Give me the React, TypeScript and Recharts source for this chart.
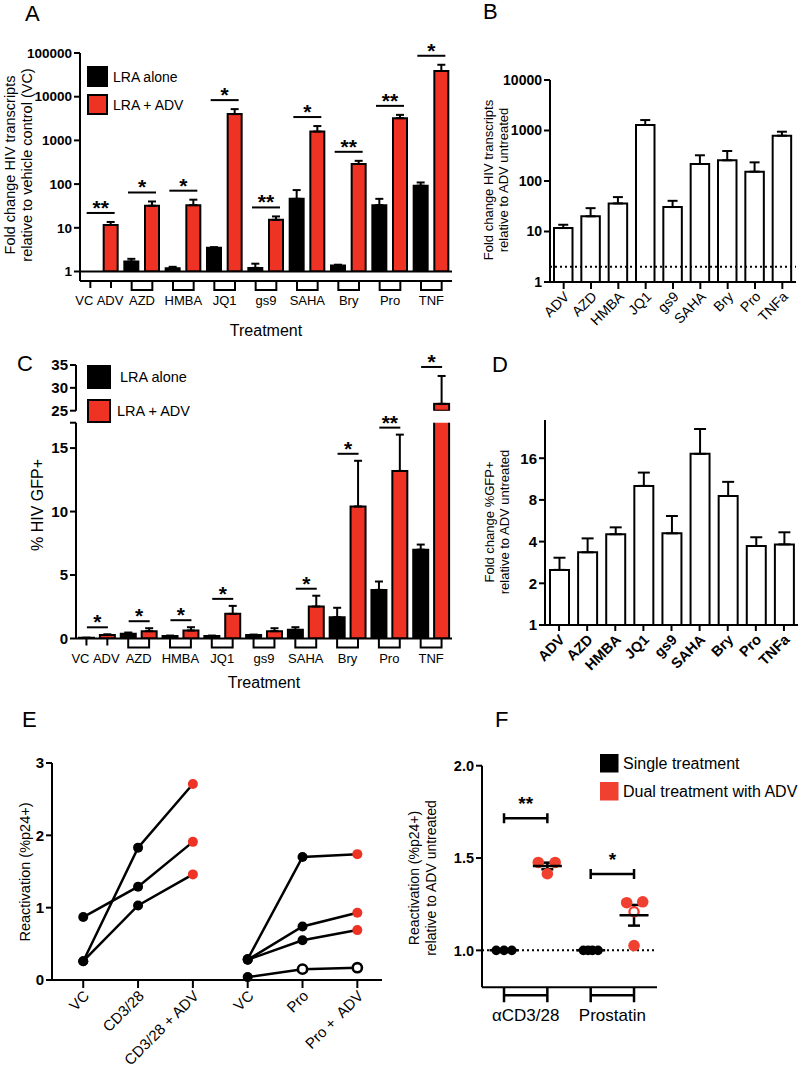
import React from 'react';
import {
  ComposedChart,
  Bar,
  Cell,
  Line,
  Scatter,
  XAxis,
  YAxis,
  ErrorBar,
  ReferenceLine,
} from 'recharts';

const FONT = '"Liberation Sans", Arial, Helvetica, sans-serif';
const RED = '#ee3224';
const PAGE_W = 800;
const PAGE_H = 1073;

// A: HIV transcripts, fold change over vehicle control (log)
const treatments = ['VC', 'ADV', 'AZD', 'HMBA', 'JQ1', 'gs9', 'SAHA', 'Bry', 'Pro', 'TNF'];
// first pair is VC (black) / ADV (red), then LRA alone / LRA + ADV
const aAlone = [1, 1.69, 1.19, 3.5, 1.21, 46, 1.37, 33, 92];
const aAloneErr = [0, 0.26, 0.09, 0.1, 0.3, 27, 0.06, 13, 17];
const aAdv = [11.6, 32, 33, 4000, 15.2, 1590, 288, 3230, 38800];
const aAdvErr = [2, 8, 11, 1200, 3, 540, 53, 610, 15000];
const aSig = ['**', '*', '*', '*', '**', '*', '**', '**', '*'];
const aTicks = [1, 10, 100, 1000, 10000, 100000];

// B: fold change relative to ADV untreated (log)
const bLabels = ['ADV', 'AZD', 'HMBA', 'JQ1', 'gs9', 'SAHA', 'Bry', 'Pro', 'TNFa'];
const bFold = [11.7, 20, 36, 1285, 30.5, 217, 257, 153, 789];
const bErr = [1.9, 9, 12, 325, 10, 106, 136, 81, 157];
const bTicks = [1, 10, 100, 1000, 10000];

// C: % HIV GFP+ (broken axis)
const cAlone = [0.05, 0.37, 0.2, 0.2, 0.27, 0.68, 1.68, 3.83, 7.0];
const cAloneErr = [0.01, 0.1, 0.03, 0.03, 0.04, 0.21, 0.74, 0.66, 0.4];
const cAdv = [0.28, 0.58, 0.63, 1.94, 0.58, 2.52, 10.4, 13.2, 26.5];
const cAdvErr = [0.05, 0.23, 0.26, 0.63, 0.23, 0.85, 3.6, 2.86, 6.1];
const cSig = ['*', '*', '*', '*', '', '*', '*', '**', '*'];
const cLowTicks = [0, 5, 10, 15, 17];
const cHighTicks = [25, 30, 35];

// D: fold change %GFP+ (log2)
const dFold = [2.5, 3.35, 4.52, 10.1, 4.59, 17.2, 8.54, 3.72, 3.82];
const dErr = [0.56, 0.87, 0.55, 2.5, 1.53, 8.8, 2.26, 0.58, 0.85];
const dTicks = [1, 2, 4, 8, 16];

// E: reactivation per donor
const eLabels = ['VC', 'CD3/28', 'CD3/28 + ADV', 'VC', 'Pro', 'Pro +  ADV'];
const eCd328 = [
  [0.87, 1.29, 1.91],
  [0.26, 1.83, 2.71],
  [0.26, 1.03, 1.46],
];
const ePro = [
  [0.29, 1.7, 1.74],
  [0.28, 0.74, 0.93],
  [0.28, 0.55, 0.69],
  [0.04, 0.15, 0.17],
];
const eOpenDonor = 3;

// F: relative reactivation
const fGroups = ['αCD3/28', 'Prostatin'];
const fSingle = [
  [1, 1, 1],
  [1, 1, 1, 1],
];
const fSingleJitter = [
  [-0.18, 0, 0.18],
  [-0.17, -0.06, 0.04, 0.17],
];
const fDual = [
  [1.476, 1.476, 1.415],
  [1.258, 1.263, 1.209, 1.026],
];
const fDualJitter = [
  [-0.21, 0.18, 0],
  [-0.17, 0.2, 0, 0],
];
const fOpenDual = [-1, 2];
const fSingleMean = [1, 1];
const fDualMean = [1.457, 1.19];
const fDualSem = [0.018, 0.056];
const fSig = ['**', '*'];
const fSigLevel = [1.716, 1.413];

type Plot = { left: number; right: number; top: number; bottom: number };
type Slot = { key: string; group: number; red: boolean; v: number; err: number; sig: string };

const AX = { stroke: '#000', strokeWidth: 2 };
const tickFont = (size: number, bold = true) => ({
  fill: '#000',
  fontSize: size,
  fontFamily: FONT,
  fontWeight: bold ? 700 : 400,
});

const marginFor = (p: Plot, yW: number, xH: number) => ({
  top: p.top,
  left: p.left - yW,
  right: PAGE_W - p.right,
  bottom: PAGE_H - p.bottom - xH,
});

function pairSlots(alone: number[], aloneErr: number[], adv: number[], advErr: number[], sig: string[]) {
  const out: Slot[] = [];
  alone.forEach((_, i) => {
    out.push({ key: `g${i}a`, group: i, red: false, v: alone[i], err: aloneErr[i], sig: '' });
    out.push({ key: `g${i}b`, group: i, red: true, v: adv[i], err: advErr[i], sig: sig[i] });
  });
  return out;
}

// error bar only goes up (GraphPad style)
const upErr = (d: any) => {
  const s = d && d.payload ? d.payload : d;
  return s && s.e ? [0, s.e] : null;
};

const Sheet = ({ children }: { children: React.ReactNode }) => (
  <div style={{ position: 'absolute', left: 0, top: 0 }}>{children}</div>
);

const bracketTick = (slots: Slot[], step: number, size: number) => (p: any) => {
  const s = slots.find((d) => d.key === (p.payload && p.payload.value));
  const { x, y } = p;
  if (!s || (s.red && s.group > 0)) return <g />;
  const label = s.group === 0 ? treatments[s.red ? 1 : 0] : treatments[s.group + 1];
  // VC / ADV sit on single ticks and are nudged apart a little
  const cx = s.group === 0 ? x + (s.red ? -1 : -6) : x + step / 2;
  const d = s.group === 0 ? `M${x},${y}V${y + 7}` : `M${x},${y}V${y + 9}H${x + step}V${y}`;
  return (
    <g>
      <path d={d} fill="none" stroke="#000" strokeWidth={2} />
      <text x={cx} y={y + 24} textAnchor="middle" fontFamily={FONT} fontSize={size} fill="#000">
        {label}
      </text>
    </g>
  );
};

const slantTick =
  (size: number, bold: boolean, fmt: (v: any) => string, dx: number, dy: number) => (p: any) => {
    const x = p.x + dx;
    const y = p.y + dy;
    return (
      <text
        x={x}
        y={y}
        transform={`rotate(-45 ${x} ${y})`}
        textAnchor="end"
        dominantBaseline="central"
        fontFamily={FONT}
        fontSize={size}
        fontWeight={bold ? 700 : 400}
        fill="#000"
        style={{ whiteSpace: 'pre' }}
      >
        {fmt(p.payload.value)}
      </text>
    );
  };

const sigShape = (l: number, r: number, gap: number) => (p: any) => {
  const d = p.payload ?? p;
  if (!d || d.sigTop == null || !Number.isFinite(p.y) || !Number.isFinite(p.x)) return <g />;
  const ly = p.y - gap;
  const x1 = p.x - l;
  const x2 = p.x + p.width + r;
  return (
    <g>
      <line x1={x1} x2={x2} y1={ly} y2={ly} stroke="#000" strokeWidth={2} />
      <text x={(x1 + x2) / 2} y={ly + 2} textAnchor="middle" fontFamily={FONT} fontWeight={700} fontSize={21} fill="#000">
        {d.sig}
      </text>
    </g>
  );
};

function PanelA() {
  const plot = { left: 80, right: 452, top: 53, bottom: 281 };
  const slots = pairSlots(aAlone, aAloneErr, aAdv, aAdvErr, aSig);
  const data = slots.map((s) => ({ ...s, e: s.err, sigTop: s.sig ? s.v + s.err : null }));
  const step = (plot.right - plot.left) / slots.length;
  const yProps = {
    type: 'number' as const,
    scale: 'log' as const,
    domain: [1, 100000],
    padding: { top: 0, bottom: 9.5 },
    allowDataOverflow: true,
  };
  return (
    <ComposedChart width={PAGE_W} height={PAGE_H} data={data} margin={marginFor(plot, 80, 64)}>
      <XAxis
        dataKey="key"
        interval={0}
        tick={bracketTick(slots, step, 13)}
        tickLine={false}
        tickSize={0}
        tickMargin={0}
        axisLine={AX}
        height={64}
      />
      <XAxis xAxisId="sig" dataKey="key" hide />
      <YAxis {...yProps} width={80} ticks={aTicks} tick={tickFont(13.5)} tickLine={AX} tickSize={6} axisLine={AX} />
      <YAxis {...yProps} yAxisId="sig" allowDataOverflow={false} hide />
      <ReferenceLine y={1} stroke="#000" strokeWidth={2} />
      <Bar dataKey="v" barSize={14} stroke="#000" strokeWidth={2} isAnimationActive={false}>
        {data.map((d) => (
          <Cell key={d.key} fill={d.red ? RED : '#000'} />
        ))}
        <ErrorBar dataKey={upErr} direction="y" width={4} stroke="#000" strokeWidth={2} />
      </Bar>
      <Bar xAxisId="sig" yAxisId="sig" dataKey="sigTop" barSize={14} shape={sigShape(17, -3, 9)} isAnimationActive={false} />
    </ComposedChart>
  );
}

function PanelB() {
  const plot = { left: 550, right: 796, top: 80, bottom: 282 };
  const data = bLabels.map((k, i) => ({ k, v: bFold[i], e: bErr[i] }));
  return (
    <ComposedChart width={PAGE_W} height={PAGE_H} data={data} margin={marginFor(plot, 60, 50)}>
      <XAxis
        dataKey="k"
        interval={0}
        tick={slantTick(14, false, (v) => String(v), 3, 3)}
        tickLine={AX}
        tickSize={7}
        tickMargin={2}
        axisLine={AX}
        height={50}
      />
      <YAxis
        type="number"
        scale="log"
        domain={[1, 10000]}
        allowDataOverflow
        ticks={bTicks}
        tick={tickFont(14)}
        tickLine={AX}
        tickSize={6}
        axisLine={AX}
        width={60}
      />
      <ReferenceLine y={2} stroke="#000" strokeWidth={2} strokeDasharray="2 3" />
      <Bar dataKey="v" barSize={18.5} fill="#fff" stroke="#000" strokeWidth={2} isAnimationActive={false}>
        <ErrorBar dataKey={upErr} direction="y" width={5} stroke="#000" strokeWidth={2} />
      </Bar>
    </ComposedChart>
  );
}

function PanelC() {
  const low = { left: 76, right: 452, top: 422.7, bottom: 638.5 };
  const high = { left: 76, right: 452, top: 365, bottom: 410.7 };
  const lowMax = 17;
  const highMin = 25;
  const slots = pairSlots(cAlone, cAloneErr, cAdv, cAdvErr, cSig);
  const step = (low.right - low.left) / slots.length;
  const lowData = slots.map((s) => ({
    ...s,
    e: s.v + s.err <= lowMax ? s.err : null,
    sigTop: s.sig && s.v + s.err <= lowMax ? s.v + s.err : null,
  }));
  const highData = slots.map((s) => ({
    ...s,
    e: s.v >= highMin ? s.err : null,
    sigTop: s.sig && s.v + s.err >= highMin ? s.v + s.err : null,
  }));
  // above the break only the bars that reach it are drawn
  const highShape = (p: any) => {
    const d = p.payload;
    if (!d || d.v < highMin || !Number.isFinite(p.y) || p.height <= 0) return <g />;
    return (
      <rect x={p.x} y={p.y} width={p.width} height={p.height} fill={d.red ? RED : '#000'} stroke="#000" strokeWidth={2} />
    );
  };
  return (
    <>
      <Sheet>
        <ComposedChart width={PAGE_W} height={PAGE_H} data={highData} margin={marginFor(high, 76, 0)}>
          <XAxis dataKey="key" hide />
          <XAxis xAxisId="sig" dataKey="key" hide />
          <YAxis
            type="number"
            domain={[highMin, 35]}
            allowDataOverflow
            ticks={cHighTicks}
            tick={tickFont(15)}
            tickLine={AX}
            tickSize={6}
            axisLine={AX}
            width={76}
          />
          <YAxis yAxisId="sig" type="number" domain={[highMin, 35]} hide />
          <Bar dataKey="v" barSize={15} shape={highShape} isAnimationActive={false}>
            <ErrorBar dataKey={upErr} direction="y" width={4} stroke="#000" strokeWidth={2} />
          </Bar>
          <Bar xAxisId="sig" yAxisId="sig" dataKey="sigTop" barSize={15} shape={sigShape(13, -7, 9)} isAnimationActive={false} />
        </ComposedChart>
      </Sheet>
      <Sheet>
        <ComposedChart width={PAGE_W} height={PAGE_H} data={lowData} margin={marginFor(low, 76, 60)}>
          <XAxis
            dataKey="key"
            interval={0}
            tick={bracketTick(slots, step, 13)}
            tickLine={false}
            tickSize={0}
            tickMargin={0}
            axisLine={AX}
            height={60}
          />
          <XAxis xAxisId="sig" dataKey="key" hide />
          <YAxis
            type="number"
            domain={[0, lowMax]}
            allowDataOverflow
            ticks={cLowTicks}
            tickFormatter={(v) => (v === lowMax ? '' : String(v))}
            tick={tickFont(15)}
            tickLine={AX}
            tickSize={6}
            axisLine={AX}
            width={76}
          />
          <YAxis yAxisId="sig" type="number" domain={[0, lowMax]} hide />
          <Bar dataKey="v" barSize={15} stroke="#000" strokeWidth={2} isAnimationActive={false}>
            {lowData.map((d) => (
              <Cell key={d.key} fill={d.red ? RED : '#000'} />
            ))}
            <ErrorBar dataKey={upErr} direction="y" width={4} stroke="#000" strokeWidth={2} />
          </Bar>
          <Bar xAxisId="sig" yAxisId="sig" dataKey="sigTop" barSize={15} shape={sigShape(13, -7, 7)} isAnimationActive={false} />
        </ComposedChart>
      </Sheet>
    </>
  );
}

function PanelD() {
  const plot = { left: 545, right: 798, top: 420, bottom: 625 };
  const data = bLabels.map((k, i) => ({ k, v: dFold[i], e: dErr[i] }));
  return (
    <ComposedChart width={PAGE_W} height={PAGE_H} data={data} margin={marginFor(plot, 50, 55)}>
      <XAxis
        dataKey="k"
        interval={0}
        tick={slantTick(14.5, true, (v) => String(v), 3, 4)}
        tickLine={AX}
        tickSize={6}
        tickMargin={2}
        axisLine={AX}
        height={55}
      />
      <YAxis
        type="number"
        scale="log"
        domain={[1, 30.2]}
        allowDataOverflow
        ticks={dTicks}
        tick={tickFont(15)}
        tickLine={AX}
        tickSize={6}
        axisLine={AX}
        width={50}
      />
      <Bar dataKey="v" barSize={19} fill="#fff" stroke="#000" strokeWidth={2} isAnimationActive={false}>
        <ErrorBar dataKey={upErr} direction="y" width={6} stroke="#000" strokeWidth={2} />
      </Bar>
    </ComposedChart>
  );
}

const eDot = (p: any) => {
  const k = p.payload && p.payload.kind;
  if (!Number.isFinite(p.cx)) return <g key={p.index} />;
  if (k === 'open')
    return <circle key={p.index} cx={p.cx} cy={p.cy} r={4.6} fill="#fff" stroke="#000" strokeWidth={2.6} />;
  return <circle key={p.index} cx={p.cx} cy={p.cy} r={5} fill={k === 'dual' ? RED : '#000'} stroke="none" />;
};

function PanelE() {
  const plot = { left: 52, right: 382, top: 763, bottom: 980 };
  const series = [
    ...eCd328.map((vals, i) => ({
      id: `cd${i}`,
      pts: vals.map((y, j) => ({ x: j, y, kind: j === 2 ? 'dual' : 'single' })),
    })),
    ...ePro.map((vals, i) => ({
      id: `pro${i}`,
      pts: vals.map((y, j) => ({
        x: j + 3,
        y,
        kind: i === eOpenDonor && j > 0 ? 'open' : j === 2 ? 'dual' : 'single',
      })),
    })),
  ];
  return (
    <ComposedChart width={PAGE_W} height={PAGE_H} margin={marginFor(plot, 52, 80)}>
      <XAxis
        type="number"
        dataKey="x"
        domain={[-0.57, 5.45]}
        allowDataOverflow
        ticks={[0, 1, 2, 3, 4, 5]}
        interval={0}
        tick={slantTick(15, false, (v) => eLabels[v], 3, 3)}
        tickLine={AX}
        tickSize={8}
        tickMargin={2}
        axisLine={AX}
        height={80}
      />
      <YAxis
        type="number"
        domain={[0, 3]}
        ticks={[0, 1, 2, 3]}
        tick={tickFont(15)}
        tickLine={AX}
        tickSize={6}
        axisLine={AX}
        width={52}
      />
      {series.map((s) => (
        <Line
          key={s.id}
          data={s.pts}
          dataKey="y"
          stroke="#000"
          strokeWidth={2.5}
          dot={eDot}
          activeDot={false}
          isAnimationActive={false}
        />
      ))}
    </ComposedChart>
  );
}

function PanelF() {
  const plot = { left: 482, right: 657, top: 765.7, bottom: 987.3 };
  const xDom = [-0.508, 3.53];
  const unit = (plot.right - plot.left) / (xDom[1] - xDom[0]);
  const single = fSingle.flatMap((g, gi) => g.map((y, j) => ({ x: gi * 2 + fSingleJitter[gi][j], y })));
  const dual = fDual.flatMap((g, gi) =>
    g.map((y, j) => ({ x: gi * 2 + 1 + fDualJitter[gi][j], y, open: fOpenDual[gi] === j })),
  );
  const means = fGroups.flatMap((_, gi) => [
    { x: gi * 2, y: fSingleMean[gi], sem: 0 },
    { x: gi * 2 + 1, y: fDualMean[gi], sem: fDualSem[gi] },
  ]);
  const sigs = fSig.map((s, gi) => ({ x: gi * 2 + 0.5, y: fSigLevel[gi], sig: s }));

  const dot = (fill: string, r: number) => (p: any) => {
    const open = p.payload && p.payload.open;
    return (
      <circle
        cx={p.cx}
        cy={p.cy}
        r={open ? r - 1.2 : r}
        fill={open ? '#fff' : fill}
        stroke={open ? fill : 'none'}
        strokeWidth={2.4}
      />
    );
  };
  const meanShape = (p: any) => (
    <line x1={p.cx - 14.5} x2={p.cx + 14.5} y1={p.cy} y2={p.cy} stroke="#000" strokeWidth={2.5} />
  );
  const sigBracket = (p: any) => {
    const half = unit / 2;
    const x1 = p.cx - half;
    const x2 = p.cx + half;
    const y = p.cy;
    return (
      <g>
        <path d={`M${x1},${y}H${x2}M${x1},${y - 5}V${y + 5}M${x2},${y - 5}V${y + 5}`} stroke="#000" strokeWidth={2.5} fill="none" />
        <text x={p.cx} y={y - 8} textAnchor="middle" fontFamily={FONT} fontWeight={700} fontSize={19} fill="#000">
          {p.payload.sig}
        </text>
      </g>
    );
  };
  const fTick = (p: any) => {
    const gi = Math.round(p.payload.value / 2);
    const x1 = p.x;
    const x2 = p.x + unit;
    const y = p.y;
    return (
      <g>
        <path d={`M${x1},${y}V${y + 15}M${x2},${y}V${y + 15}M${x1},${y + 8}H${x2}`} stroke="#000" strokeWidth={2.5} fill="none" />
        <text x={(x1 + x2) / 2} y={y + 34} textAnchor="middle" fontFamily={FONT} fontSize={17} fill="#000">
          {fGroups[gi]}
        </text>
      </g>
    );
  };
  const semKey = (d: any) => {
    const s = d && d.payload ? d.payload : d;
    return s && s.sem ? s.sem : null;
  };
  return (
    <ComposedChart width={PAGE_W} height={PAGE_H} margin={marginFor(plot, 50, 45)}>
      <XAxis
        type="number"
        dataKey="x"
        domain={xDom}
        allowDataOverflow
        ticks={[0, 2]}
        interval={0}
        tick={fTick}
        tickLine={false}
        tickSize={0}
        tickMargin={0}
        axisLine={AX}
        height={45}
      />
      <YAxis
        type="number"
        dataKey="y"
        domain={[0.8, 2.0]}
        allowDataOverflow
        ticks={[1.0, 1.5, 2.0]}
        tickFormatter={(v) => Number(v).toFixed(1)}
        tick={tickFont(14.5)}
        tickLine={AX}
        tickSize={6}
        axisLine={AX}
        width={50}
      />
      <ReferenceLine y={1} stroke="#000" strokeWidth={2} strokeDasharray="2 3" />
      <Scatter data={single} dataKey="y" shape={dot('#000', 4.8)} isAnimationActive={false} />
      <Scatter data={dual} dataKey="y" shape={dot('#f0402f', 5.8)} isAnimationActive={false} />
      <Scatter data={means} dataKey="y" shape={meanShape} isAnimationActive={false}>
        <ErrorBar dataKey={semKey} direction="y" width={6} stroke="#000" strokeWidth={2.5} />
      </Scatter>
      <Scatter data={sigs} dataKey="y" shape={sigBracket} isAnimationActive={false} />
    </ComposedChart>
  );
}

function VLabel({ cx, cy, lines, size, gap = 0 }: { cx: number; cy: number; lines: string[]; size: number; gap?: number }) {
  return (
    <g>
      {lines.map((t, i) => {
        const x = cx + (i - (lines.length - 1) / 2) * gap;
        return (
          <text
            key={i}
            x={x}
            y={cy}
            transform={`rotate(-90 ${x} ${cy})`}
            textAnchor="middle"
            dominantBaseline="central"
            fontFamily={FONT}
            fontSize={size}
            fill="#000"
          >
            {t}
          </text>
        );
      })}
    </g>
  );
}

function Overlay() {
  const txt = { fontFamily: FONT, fill: '#000' };
  const letter = (t: string, x: number, y: number) => (
    <text x={x} y={y} fontSize={22} {...txt}>
      {t}
    </text>
  );
  const legendItem = (x: number, y: number, s: number, fill: string, border: boolean, label: string, tx: number, size: number) => (
    <g>
      <rect x={x} y={y} width={s} height={s} fill={fill} stroke={border ? '#000' : 'none'} strokeWidth={border ? 2 : 0} />
      <text x={tx} y={y + s / 2} dominantBaseline="central" fontSize={size} {...txt}>
        {label}
      </text>
    </g>
  );
  return (
    <svg width={PAGE_W} height={PAGE_H} style={{ position: 'absolute', left: 0, top: 0, pointerEvents: 'none' }}>
      {letter('A', 25, 21)}
      {letter('B', 483, 19)}
      {letter('C', 17, 371)}
      {letter('D', 492, 372)}
      {letter('E', 22, 727)}
      {letter('F', 495, 727)}

      <VLabel cx={18.5} cy={165} gap={17.5} size={14.5} lines={['Fold change HIV transcripts', 'relative to vehicle control (VC)']} />
      <text x={266} y={336} textAnchor="middle" fontSize={16} {...txt}>
        Treatment
      </text>
      {legendItem(88, 67, 19, '#000', true, 'LRA alone', 113, 14)}
      {legendItem(88, 95, 19, RED, true, 'LRA + ADV', 113, 14)}

      <VLabel cx={495.5} cy={180} gap={15} size={13} lines={['Fold change HIV transcripts', 'relative to ADV untreated']} />

      <VLabel cx={37.5} cy={505} size={16} lines={['% HIV GFP+']} />
      <text x={264} y={688} textAnchor="middle" fontSize={16} {...txt}>
        Treatment
      </text>
      {legendItem(88, 366, 22, '#000', true, 'LRA alone', 120, 14.5)}
      {legendItem(88, 400, 22, RED, true, 'LRA + ADV', 117, 14.5)}

      <VLabel cx={496.5} cy={522} gap={15} size={13} lines={['Fold change %GFP+', 'relative to ADV untreated']} />

      <VLabel cx={25} cy={872} size={14.5} lines={['Reactivation (%p24+)']} />

      <VLabel cx={422.5} cy={878} gap={17} size={14} lines={['Reactivation (%p24+)', 'relative to ADV untreated']} />
      {legendItem(600, 754, 18.5, '#000', false, 'Single treatment', 623, 16)}
      {legendItem(600, 782, 18.5, '#f0402f', false, 'Dual treatment with ADV', 623, 16)}
    </svg>
  );
}

export default function App() {
  return (
    <div
      style={{
        position: 'absolute',
        left: 0,
        top: 0,
        width: PAGE_W,
        height: PAGE_H,
        background: '#fff',
        overflow: 'hidden',
      }}
    >
      <Sheet>
        <PanelA />
      </Sheet>
      <Sheet>
        <PanelB />
      </Sheet>
      <PanelC />
      <Sheet>
        <PanelD />
      </Sheet>
      <Sheet>
        <PanelE />
      </Sheet>
      <Sheet>
        <PanelF />
      </Sheet>
      <Overlay />
    </div>
  );
}
